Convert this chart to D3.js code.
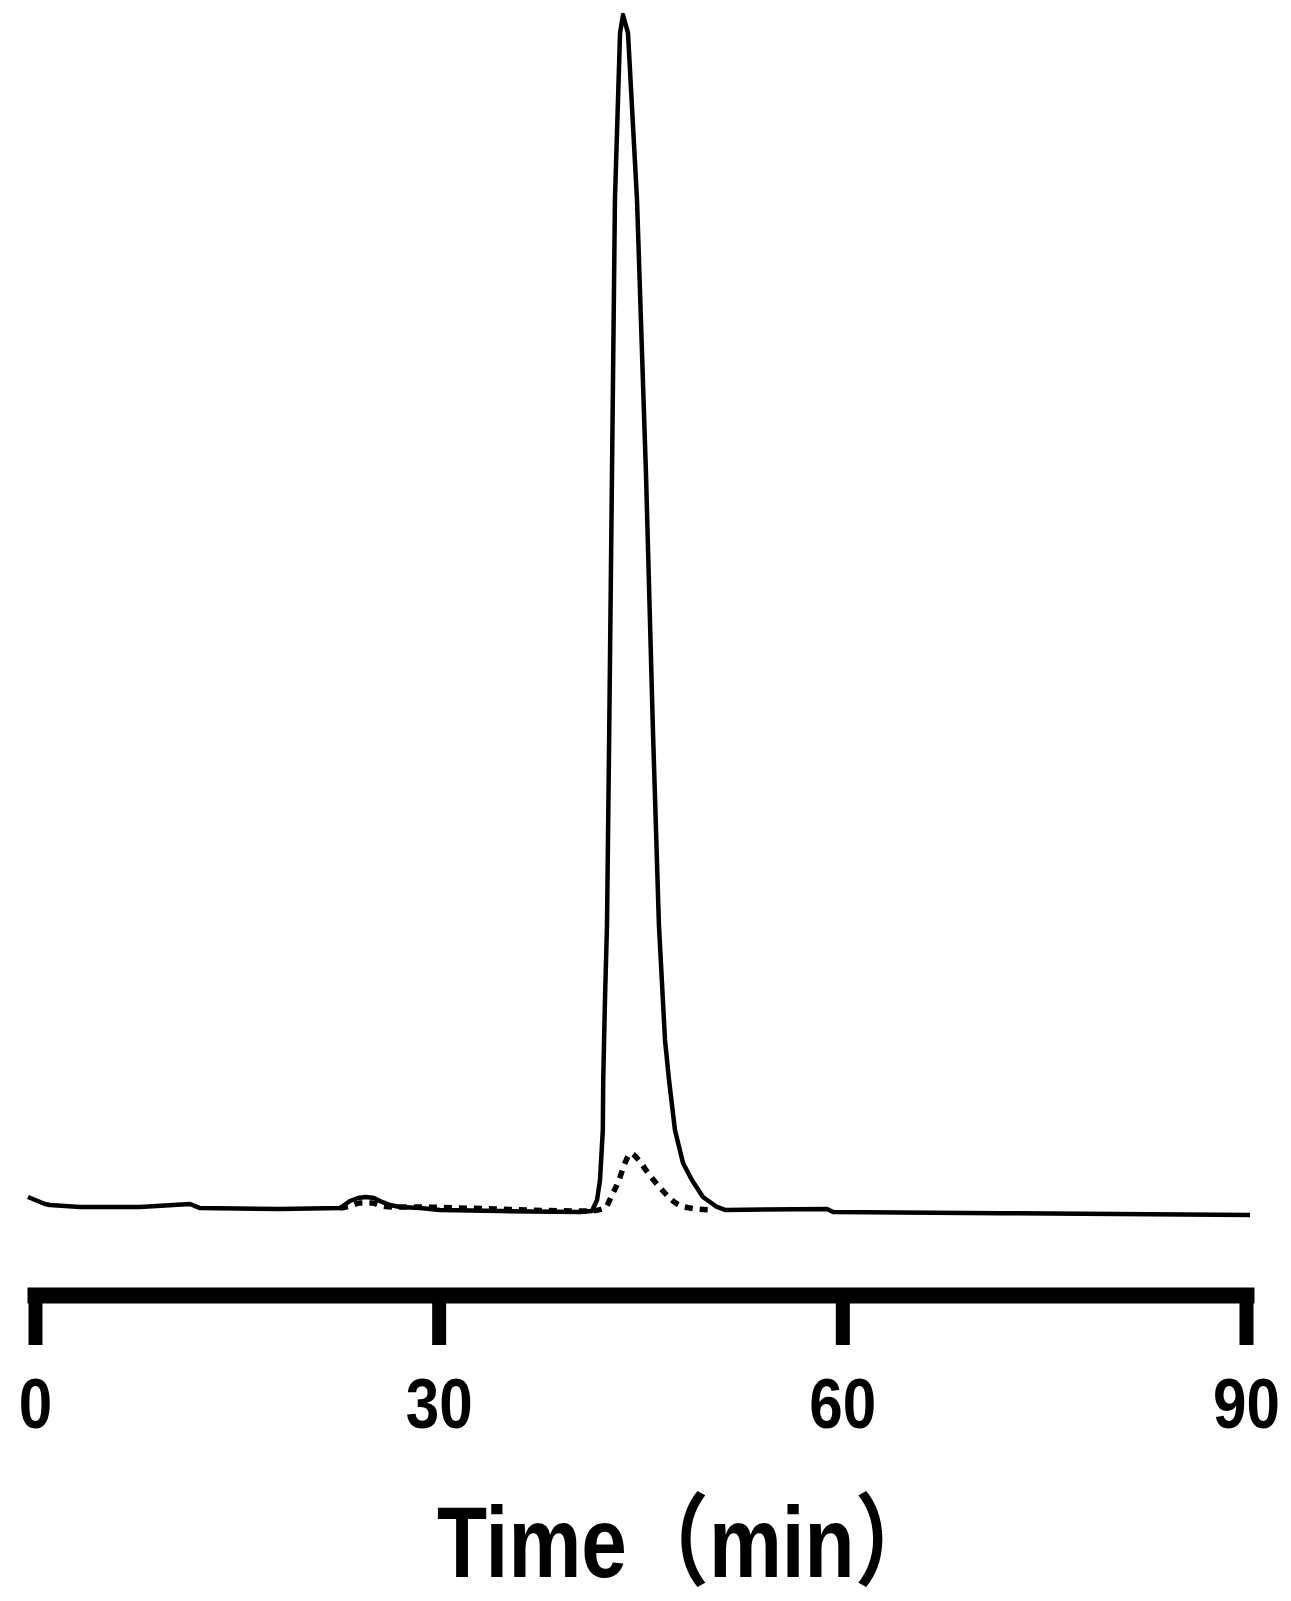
<!DOCTYPE html>
<html>
<head>
<meta charset="utf-8">
<script src="https://cdnjs.cloudflare.com/ajax/libs/d3/7.8.5/d3.min.js"></script>
<style>
  body { margin: 0; background: #fff; }
  svg { display: block; }
</style>
</head>
<body>
<svg id="chart" width="1291" height="1601"></svg>
<script>
// time (min) / signal (arbitrary units, main peak = 100)
var solidTime = [-0.52, 0.74, 1.11, 3.34, 7.8, 11.52, 12.26, 18.21, 22.67, 23.41, 24.0, 24.6, 25.19, 25.79, 26.38, 27.13, 28.61, 30.1, 34.56, 40.5, 41.39, 41.77, 41.99, 42.2, 42.23, 42.36, 42.51, 42.66, 42.88, 43.1, 43.48, 43.7, 44.07, 44.74, 45.41, 45.93, 46.37, 46.82, 47.12, 47.56, 48.16, 48.82, 49.64, 50.68, 51.28, 58.86, 59.31, 71.72, 90.3];
var solidSignal = [1.25, 0.67, 0.58, 0.42, 0.42, 0.67, 0.33, 0.25, 0.33, 0.92, 1.17, 1.25, 1.17, 0.84, 0.58, 0.42, 0.33, 0.17, 0.08, 0, 0.08, 1.0, 2.67, 6.85, 11.03, 17.71, 23.98, 38.6, 61.57, 84.55, 98.5, 100, 98.5, 84.55, 61.57, 40.02, 23.98, 14.37, 11.03, 6.85, 4.09, 2.67, 1.25, 0.42, 0.17, 0.25, 0, -0.1, -0.25];

var dashTime = [22.67, 23.41, 24.15, 25.04, 25.79, 26.53, 27.13, 41.25, 42.36, 42.88, 43.4, 43.85, 44.29, 44.74, 45.56, 46.6, 47.72, 48.68, 50.16];
var dashSignal = [0.33, 0.5, 0.75, 0.75, 0.5, 0.42, 0.42, 0.08, 0.33, 1.42, 2.67, 4.1, 4.9, 4.5, 3.26, 1.84, 0.67, 0.33, 0.17];

var xTicks = [0, 30, 60, 90];

var svg = d3.select("#chart");

var x = d3.scaleLinear().domain([0, 90]).range([35, 1246]);
var y = d3.scaleLinear().domain([0, 100]).range([1212, 15]);

var line = d3.line()
  .x(function(d){ return x(d[0]); })
  .y(function(d){ return y(d[1]); });

var dashData = d3.zip(dashTime, dashSignal);
var solidData = d3.zip(solidTime, solidSignal);

svg.append("path").datum(dashData)
  .attr("d", line.curve(d3.curveMonotoneX))
  .attr("fill", "none")
  .attr("stroke", "#000")
  .attr("stroke-width", 5.5)
  .attr("stroke-dasharray", "8,7");

svg.append("path").datum(solidData)
  .attr("d", line.curve(d3.curveLinear))
  .attr("fill", "none")
  .attr("stroke", "#000")
  .attr("stroke-width", 4.5)
  .attr("stroke-linejoin", "round");

// axis
var axis = d3.axisBottom(x)
  .tickValues(xTicks)
  .tickSizeOuter(0)
  .tickSizeInner(50)
  .tickPadding(33)
  .tickFormat(d3.format("d"));

var gx = svg.append("g")
  .attr("transform", "translate(0,1295)")
  .call(axis);

gx.select(".domain")
  .attr("stroke", "#000")
  .attr("stroke-width", 16)
  .attr("stroke-linecap", "square");

gx.selectAll(".tick line")
  .attr("stroke", "#000")
  .attr("stroke-width", 14);

gx.selectAll(".tick text")
  .attr("fill", "#000")
  .attr("font-family", "'Liberation Sans', Arial, sans-serif")
  .attr("font-weight", "bold")
  .attr("font-size", 70)
  .attr("transform", "scale(0.86,1)");

svg.append("text")
  .attr("transform", "translate(437,1577) scale(0.82,1)")
  .attr("font-family", "'Liberation Sans', 'Noto Sans CJK JP', Arial, sans-serif")
  .attr("font-weight", "bold")
  .attr("font-size", 100)
  .text("Time（min）");
</script>
</body>
</html>
